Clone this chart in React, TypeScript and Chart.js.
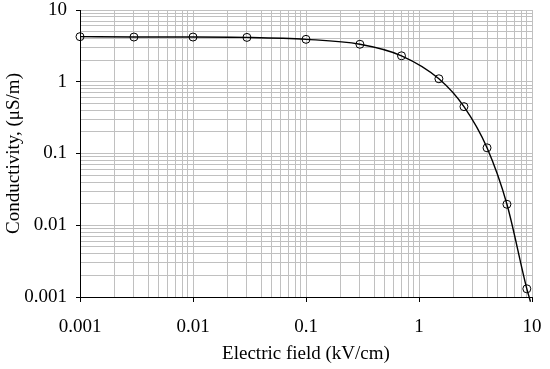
import React, { useEffect, useRef } from "react";
import { Chart, registerables } from "chart.js";

Chart.register(...registerables);

// Measured points (Electric field kV/cm, Conductivity µS/m)
const fieldValues = [0.001, 0.003, 0.01, 0.03, 0.1, 0.3, 0.7, 1.5, 2.5, 4, 6, 9];
const conductivityValues = [4.25, 4.2, 4.2, 4.15, 3.9, 3.33, 2.3, 1.1, 0.45, 0.12, 0.0196, 0.0013];

// Fitted curve points
const curveField = [0.001, 0.003, 0.01, 0.03, 0.1, 0.3, 0.7, 1.5, 2.5, 4, 6, 9, 9.7];
const curveConductivity = [4.25, 4.2, 4.2, 4.15, 3.9, 3.33, 2.3, 1.1, 0.45, 0.12, 0.0196, 0.0013, 0.00086];

// Axis ticks
const xMajorTicks = [0.001, 0.01, 0.1, 1, 10];
const xTickLabels = ["0.001", "0.01", "0.1", "1", "10"];
const yMajorTicks = [0.001, 0.01, 0.1, 1, 10];
const yTickLabels = ["0.001", "0.01", "0.1", "1", "10"];
const minorMultipliers = [1, 2, 3, 4, 5, 6, 7, 8, 9];

const xTitle = "Electric field (kV/cm)";
const yTitle = "Conductivity, (\u03BCS/m)";

const FONT = "'Liberation Serif', 'Times New Roman', serif";

function buildLogTicks(majors: number[]) {
  const out: { value: number; major: boolean }[] = [];
  for (let i = 0; i < majors.length; i++) {
    if (i === majors.length - 1) {
      out.push({ value: majors[i], major: true });
    } else {
      for (const m of minorMultipliers) {
        out.push({ value: majors[i] * m, major: m === 1 });
      }
    }
  }
  return out;
}

function labelFor(value: number, majors: number[], labels: string[]) {
  for (let i = 0; i < majors.length; i++) {
    if (Math.abs(Math.log10(value) - Math.log10(majors[i])) < 1e-6) return labels[i];
  }
  return "";
}

export default function App() {
  const ref = useRef<HTMLCanvasElement | null>(null);

  useEffect(() => {
    if (!ref.current) return;
    const markers = fieldValues.map((x, i) => ({ x, y: conductivityValues[i] }));
    const curve = curveField.map((x, i) => ({ x, y: curveConductivity[i] }));

    const tickColor = (ctx: any) => (ctx.tick && ctx.tick.major ? "#000000" : "rgba(0,0,0,0)");

    const chart = new Chart(ref.current, {
      type: "scatter",
      data: {
        datasets: [
          {
            label: "fit",
            data: curve,
            showLine: true,
            borderColor: "#000000",
            borderWidth: 1.4,
            pointRadius: 0,
            fill: false,
            cubicInterpolationMode: "monotone",
            clip: { left: 0, top: 0, right: 6, bottom: 6 } as any,
            order: 2,
          },
          {
            label: "data",
            data: markers,
            showLine: false,
            pointRadius: 4,
            pointStyle: "circle",
            pointBorderColor: "#000000",
            pointBackgroundColor: "rgba(0,0,0,0)",
            pointBorderWidth: 1,
            clip: false as any,
            order: 1,
          },
        ],
      },
      options: {
        animation: false,
        responsive: false,
        maintainAspectRatio: false,
        layout: { padding: { left: 0, right: 18, top: 10, bottom: 0 } },
        plugins: {
          legend: { display: false },
          tooltip: { enabled: false },
        },
        scales: {
          x: {
            type: "logarithmic",
            min: 0.001,
            max: 10,
            afterBuildTicks: (scale: any) => {
              scale.ticks = buildLogTicks(xMajorTicks);
            },
            afterFit: (scale: any) => {
              scale.height = 72;
              scale.paddingLeft = 0;
              scale.paddingRight = 0;
            },
            grid: {
              color: "#c0c0c0",
              lineWidth: 1,
              drawTicks: true,
              tickLength: 5,
              tickColor: tickColor as any,
            },
            border: { color: "#000000", width: 1 },
            ticks: {
              autoSkip: false,
              maxRotation: 0,
              minRotation: 0,
              padding: 16,
              color: "#000000",
              font: { family: FONT, size: 19, lineHeight: 1 },
              callback: (value: any) => labelFor(Number(value), xMajorTicks, xTickLabels),
            },
            title: {
              display: true,
              text: xTitle,
              color: "#000000",
              font: { family: FONT, size: 19 },
              padding: { top: 0, bottom: 4 },
            },
          },
          y: {
            type: "logarithmic",
            min: 0.001,
            max: 10,
            afterBuildTicks: (scale: any) => {
              scale.ticks = buildLogTicks(yMajorTicks);
            },
            afterFit: (scale: any) => {
              scale.width = 80;
              scale.paddingTop = 0;
              scale.paddingBottom = 0;
            },
            grid: {
              color: "#c0c0c0",
              lineWidth: 1,
              drawTicks: true,
              tickLength: 4,
              tickColor: tickColor as any,
            },
            border: { color: "#000000", width: 1 },
            ticks: {
              autoSkip: false,
              padding: 9,
              color: "#000000",
              font: { family: FONT, size: 19, lineHeight: 1 },
              callback: (value: any) => labelFor(Number(value), yMajorTicks, yTickLabels),
            },
            title: {
              display: true,
              text: yTitle,
              color: "#000000",
              font: { family: FONT, size: 19 },
              padding: { top: 3, bottom: 0 },
            },
          },
        },
      },
    });
    return () => chart.destroy();
  }, []);

  return (
    <div style={{ position: "absolute", left: 0, top: 0, width: 550, height: 369, background: "#ffffff" }}>
      <canvas ref={ref} width={550} height={369} style={{ display: "block" }} />
    </div>
  );
}
